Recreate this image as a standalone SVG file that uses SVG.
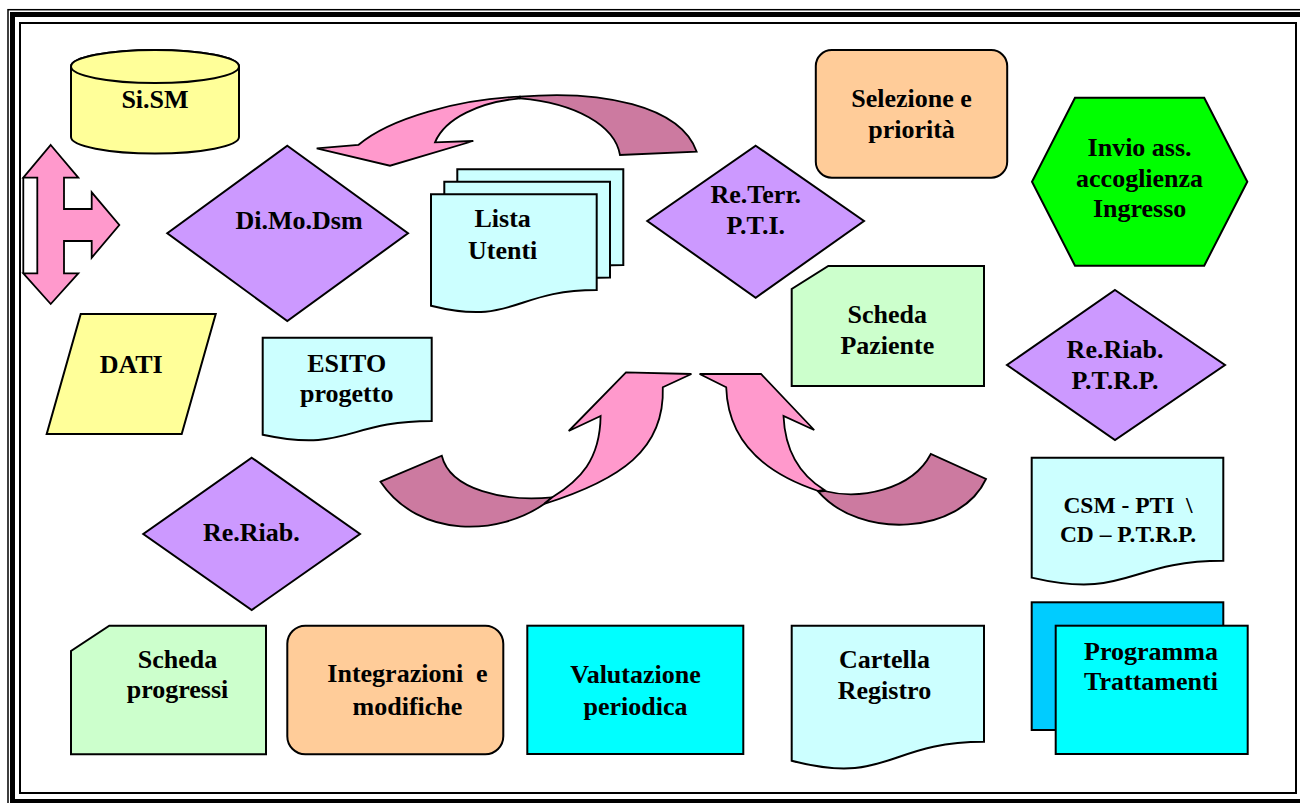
<svg xmlns="http://www.w3.org/2000/svg" width="1300" height="803" viewBox="0 0 1300 803">
<style>
.s{stroke:#000;stroke-width:2;stroke-linejoin:miter}
.t{font-family:"Liberation Serif","Times New Roman",serif;font-weight:bold;font-size:26px;fill:#000;text-anchor:middle}
.ts{font-size:23.5px}
.yel{fill:#FFFF99}.pur{fill:#CC99FF}.cyl{fill:#CCFFFF}.org{fill:#FFCC99}.grn{fill:#CCFFCC}.aqua{fill:#00FFFF}
.pk{fill:#FF99CC;stroke:#000;stroke-width:1.8;stroke-linejoin:miter}
.dk{fill:#CC7AA0;stroke:#000;stroke-width:1.8;stroke-linejoin:miter}
</style>
<rect width="1300" height="803" fill="#fff"/>
<g id="frame" fill="none" stroke="#000">
<rect x="8" y="9.7" width="1310" height="810" stroke-width="1.5"/>
<rect x="12.5" y="14.5" width="1291" height="787" stroke-width="5"/>
<rect x="20" y="23" width="1276" height="770" stroke-width="2"/>
</g>
<g id="connectors">
<g id="arrow-top">
<path class="dk" d="M520,96.7 C600,90 680,105 696.7,151.7 L620,155 C615,125 575,103 520,98.3 Z"/>
<path class="pk" d="M358.3,145 C390,118 460,99 520,96.7 L520,98.3 C480,102 445,118 435,142.3 L473.3,141 L390,165.7 L316.7,148.3 Z"/>
</g>
<g id="arrow-bottom-left">
<path class="dk" d="M380.5,481.7 L441.8,455.7 C450,490 505,502 552.3,497.3 L544.1,504 C500,535 420,540 380.5,481.7 Z"/>
<path class="pk" d="M600.6,416 L568.7,431 L626,372.3 L691.4,374 L662.8,387.3 C665,450 620,480 544.1,504 L552.3,497.3 C580,480 600,460 600.6,416 Z"/>
</g>
<g id="arrow-bottom-right">
<path class="dk" d="M824.4,491 C860,500 912,490 930.8,454 L986,479 C960,535 860,540 818.3,491.7 Z"/>
<path class="pk" d="M699.6,374 L761,374 L814.2,430 L783.5,416 C785,450 800,475 824.4,490 L818.3,491 C770,475 728,445 726.2,387.3 Z"/>
</g>
<g id="arrow-quad">
<path class="pk" d="M50.7,145 L78.3,177.7 L64,177.7 L64,209 L91.7,209 L91.7,192.3 L119.3,225 L91.7,257.7 L91.7,241 L64,241 L64,273.3 L78.3,273.3 L50.7,304 L23.3,273.3 L37.3,273.3 L37.3,177.7 L23.3,177.7 Z"/>
<line x1="23.3" y1="177.7" x2="23.3" y2="273.3" stroke="#000" stroke-width="1.8"/>
</g>
</g>
<g id="n-sism">
<path class="s yel" d="M71,66.5 V137 A84,16.5 0 0 0 239,137 V66.5 A84,16.5 0 0 0 71,66.5 Z"/>
<ellipse class="s yel" cx="155" cy="66.5" rx="84" ry="16.5"/>
<text class="t" x="155" y="108">Si.SM</text>
</g>
<g id="n-dimodsm">
<polygon class="s pur" points="287.3,145.7 408,233.3 287.3,321 167.3,233.3"/>
<text class="t" x="299" y="229.3">Di.Mo.Dsm</text>
</g>
<g id="n-lista">
<path class="s cyl" d="M457.3,169.3 H623.3 V265 C540.3,265 540.3,301.5 457.3,280.7 Z"/>
<path class="s cyl" d="M444.3,181.7 H610 V277.4 C527.2,277.4 527.2,313.9 444.3,293.1 Z"/>
<path class="s cyl" d="M431,194.3 H596.7 V290 C513.9,290 513.9,326.5 431,305.7 Z"/>
<text class="t" x="502.7" y="226.7">Lista</text>
<text class="t" x="502.7" y="259">Utenti</text>
</g>
<g id="n-reterr">
<polygon class="s pur" points="755.7,145.7 864,221 755.7,297.7 647.3,221"/>
<text class="t" x="755.8" y="203.3">Re.Terr.</text>
<text class="t" x="755.8" y="234.3">P.T.I.</text>
</g>
<g id="n-selezione">
<rect class="s org" x="815.8" y="50" width="191.4" height="127.7" rx="16" ry="16"/>
<text class="t" x="911.5" y="107.3">Selezione e</text>
<text class="t" x="911.5" y="138.3">priorità</text>
</g>
<g id="n-invio">
<polygon points="1075,97.7 1204.2,97.7 1247.3,181.7 1204.2,265.7 1075,265.7 1032,181.7" fill="#00FF00" stroke="#000" stroke-width="2"/>
<text class="t" x="1139.6" y="155.7">Invio ass.</text>
<text class="t" x="1139.6" y="186.7">accoglienza</text>
<text class="t" x="1139.6" y="217.3">Ingresso</text>
</g>
<g id="n-schedapaz">
<path class="s grn" d="M828.3,266 H984 V386 H791.7 V289 Z"/>
<text class="t" x="887.3" y="323.3">Scheda</text>
<text class="t" x="887.3" y="354.3">Paziente</text>
</g>
<g id="n-reriabptrp">
<polygon class="s pur" points="1115,290 1225,365 1115,440 1007,365"/>
<text class="t" x="1115" y="358">Re.Riab.</text>
<text class="t" x="1115" y="389">P.T.R.P.</text>
</g>
<g id="n-dati">
<polygon class="s yel" points="80.7,314 215.7,314 181.7,434 46.7,434"/>
<text class="t" x="131.2" y="372.7">DATI</text>
</g>
<g id="n-esito">
<path class="s cyl" d="M262.7,337.7 H431.7 V421 C347.2,421 347.2,452.8 262.7,434.7 Z"/>
<text class="t" x="346.7" y="371.7">ESITO</text>
<text class="t" x="346.7" y="401.7">progetto</text>
</g>
<g id="n-reriab">
<polygon class="s pur" points="251.7,457.7 360,534 251.7,610 143.3,534"/>
<text class="t" x="251.3" y="540.7">Re.Riab.</text>
</g>
<g id="n-csm">
<path class="s cyl" d="M1031.7,457.7 H1223.3 V560.7 C1127.5,560.7 1127.5,600 1031.7,577.6 Z"/>
<text class="t ts" x="1128" y="513.3" xml:space="preserve" style="white-space:pre">CSM - PTI  \</text>
<text class="t ts" x="1128" y="541.7">CD – P.T.R.P.</text>
</g>
<g id="n-programma">
<rect x="1031.7" y="602.3" width="191.6" height="127.7" fill="#00CCFF" stroke="#000" stroke-width="2"/>
<rect class="s aqua" x="1055.7" y="625.7" width="192" height="128.3"/>
<text class="t" x="1151" y="660">Programma</text>
<text class="t" x="1151" y="690">Trattamenti</text>
</g>
<g id="n-schedaprog">
<path class="s grn" d="M109.3,625.7 H266 V754.3 H71 V651 Z"/>
<text class="t" x="177.5" y="668.3">Scheda</text>
<text class="t" x="177.5" y="698.3">progressi</text>
</g>
<g id="n-integrazioni">
<rect class="s org" x="287.3" y="625.7" width="216" height="128.6" rx="18" ry="18"/>
<text class="t" x="407.5" y="681.7" xml:space="preserve" style="white-space:pre">Integrazioni  e</text>
<text class="t" x="407.5" y="715">modifiche</text>
</g>
<g id="n-valutazione">
<rect class="s aqua" x="527.3" y="625.7" width="216" height="128.3"/>
<text class="t" x="635.5" y="683.3">Valutazione</text>
<text class="t" x="635.5" y="715">periodica</text>
</g>
<g id="n-cartella">
<path class="s cyl" d="M791.7,625.7 H984 V741.7 C887.9,741.7 887.9,785.9 791.7,760.8 Z"/>
<text class="t" x="884.5" y="668.3">Cartella</text>
<text class="t" x="884.5" y="699">Registro</text>
</g>
</svg>
